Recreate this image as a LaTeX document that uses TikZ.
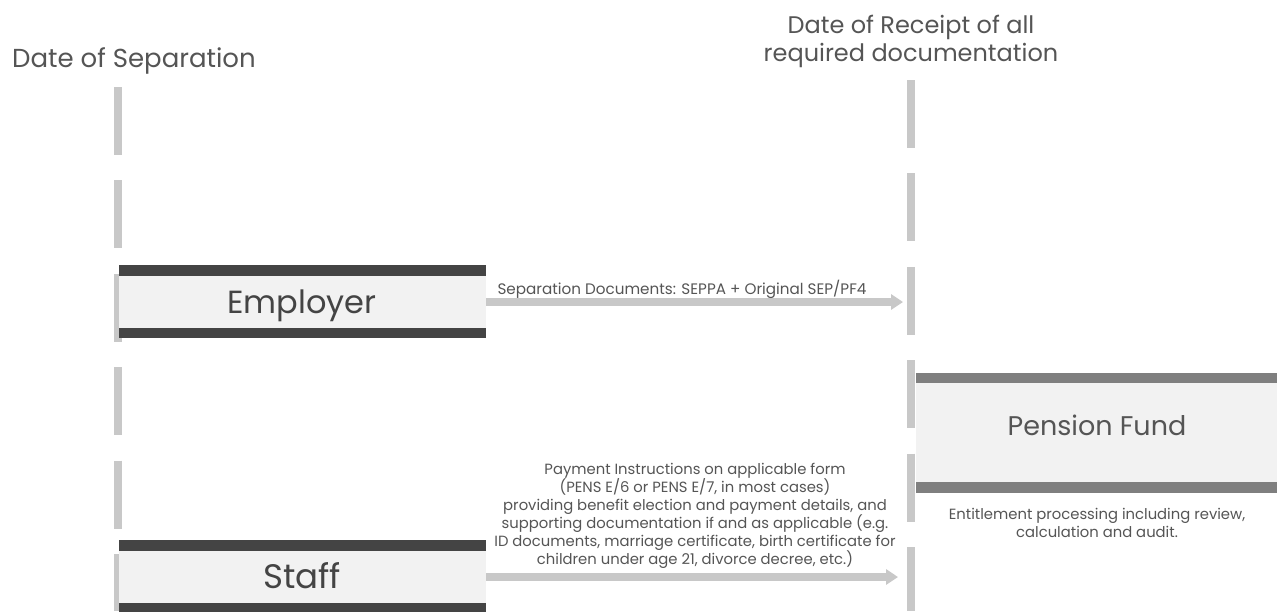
\documentclass[tikz,border=0pt]{standalone}
\usepackage{fontspec}
\setmainfont{Poppins}
\usetikzlibrary{arrows.meta}
\definecolor{dashgray}{HTML}{C8C8C8}
\definecolor{boxfill}{HTML}{F2F2F2}
\definecolor{bardark}{HTML}{444444}
\definecolor{barmid}{HTML}{7F7F7F}
\definecolor{txt}{HTML}{555555}
\definecolor{txtdark}{HTML}{444444}
\tikzset{
  timeline/.style={draw=dashgray, line width=8pt, dash pattern=on 68pt off 25.4pt},
  actorbox/.style={fill=boxfill, inner sep=0pt, text=txtdark},
  flow/.style={draw=dashgray, line width=8pt, -{Triangle[length=12pt,width=15pt]}},
  title/.style={text=txt, font=\fontsize{26}{28}\selectfont, align=center, inner sep=0pt},
  small/.style={text=txt, font=\fontsize{14.8}{18}\selectfont, align=center, inner sep=0pt},
  actortext/.style={text=txtdark, inner sep=0pt, anchor=base},
}
\begin{document}
\begin{tikzpicture}[x=1pt,y=-1pt]
\useasboundingbox[fill=white] (0,0) rectangle (1277,611);
% titles
\node[title, anchor=base west] (sep) at (12,67) {Date of Separation};
\node[title, anchor=base, font=\fontsize{24}{28}\selectfont] (rec) at (911,61) {Date of Receipt of all\\required documentation};
% timelines
\draw[timeline] (118,87) -- (118,611);
\draw[timeline] (911,80) -- (911,611);
% employer
\node[actorbox, minimum width=367pt, minimum height=73pt, anchor=north west] (emp) at (119,265) {};
\fill[bardark] (emp.north west) rectangle ([yshift=-11pt]emp.north east);
\fill[bardark] (emp.south west) rectangle ([yshift=10pt]emp.south east);
\node[actortext, font=\fontsize{32}{36}\selectfont] (empt) at (302,313) {Employer};
% staff
\node[actorbox, minimum width=367pt, minimum height=74pt, anchor=north west] (stf) at (119,540) {};
\fill[bardark] (stf.north west) rectangle ([yshift=-11pt]stf.north east);
\fill[bardark] (stf.south west) rectangle ([yshift=11pt]stf.south east);
\node[actortext, font=\fontsize{34}{36}\selectfont] (stft) at (302,588) {Staff};
% pension fund
\node[actorbox, minimum width=370pt, minimum height=120pt, anchor=north west] (pf) at (916,373) {};
\fill[barmid] (pf.north west) rectangle ([yshift=-10pt]pf.north east);
\fill[barmid] (pf.south west) rectangle ([yshift=11pt]pf.south east);
\node[text=txt, inner sep=0pt, anchor=base, font=\fontsize{27}{30}\selectfont] (pft) at (1097,435) {Pension Fund};
\node[small, anchor=base] (ent) at (1097,537) {Entitlement processing including review,\\calculation and audit.};
% arrows
\coordinate (t1) at (903,302);
\coordinate (t2) at (898,577);
\draw[flow] (emp.east |- t1) -- (t1);
\draw[flow] (stf.east |- t2) -- (t2);
\node[small, anchor=base, font=\fontsize{15.2}{18}\selectfont] (l1) at (682,294) {Separation Documents: SEPPA + Original SEP/PF4};
\node[small, anchor=base] (l2) at (695,564) {Payment Instructions on applicable form\\(PENS E/6 or PENS E/7, in most cases)\\providing benefit election and payment details, and\\supporting documentation if and as applicable (e.g.\\ID documents, marriage certificate, birth certificate for\\children under age 21, divorce decree, etc.)};
\end{tikzpicture}
\end{document}
